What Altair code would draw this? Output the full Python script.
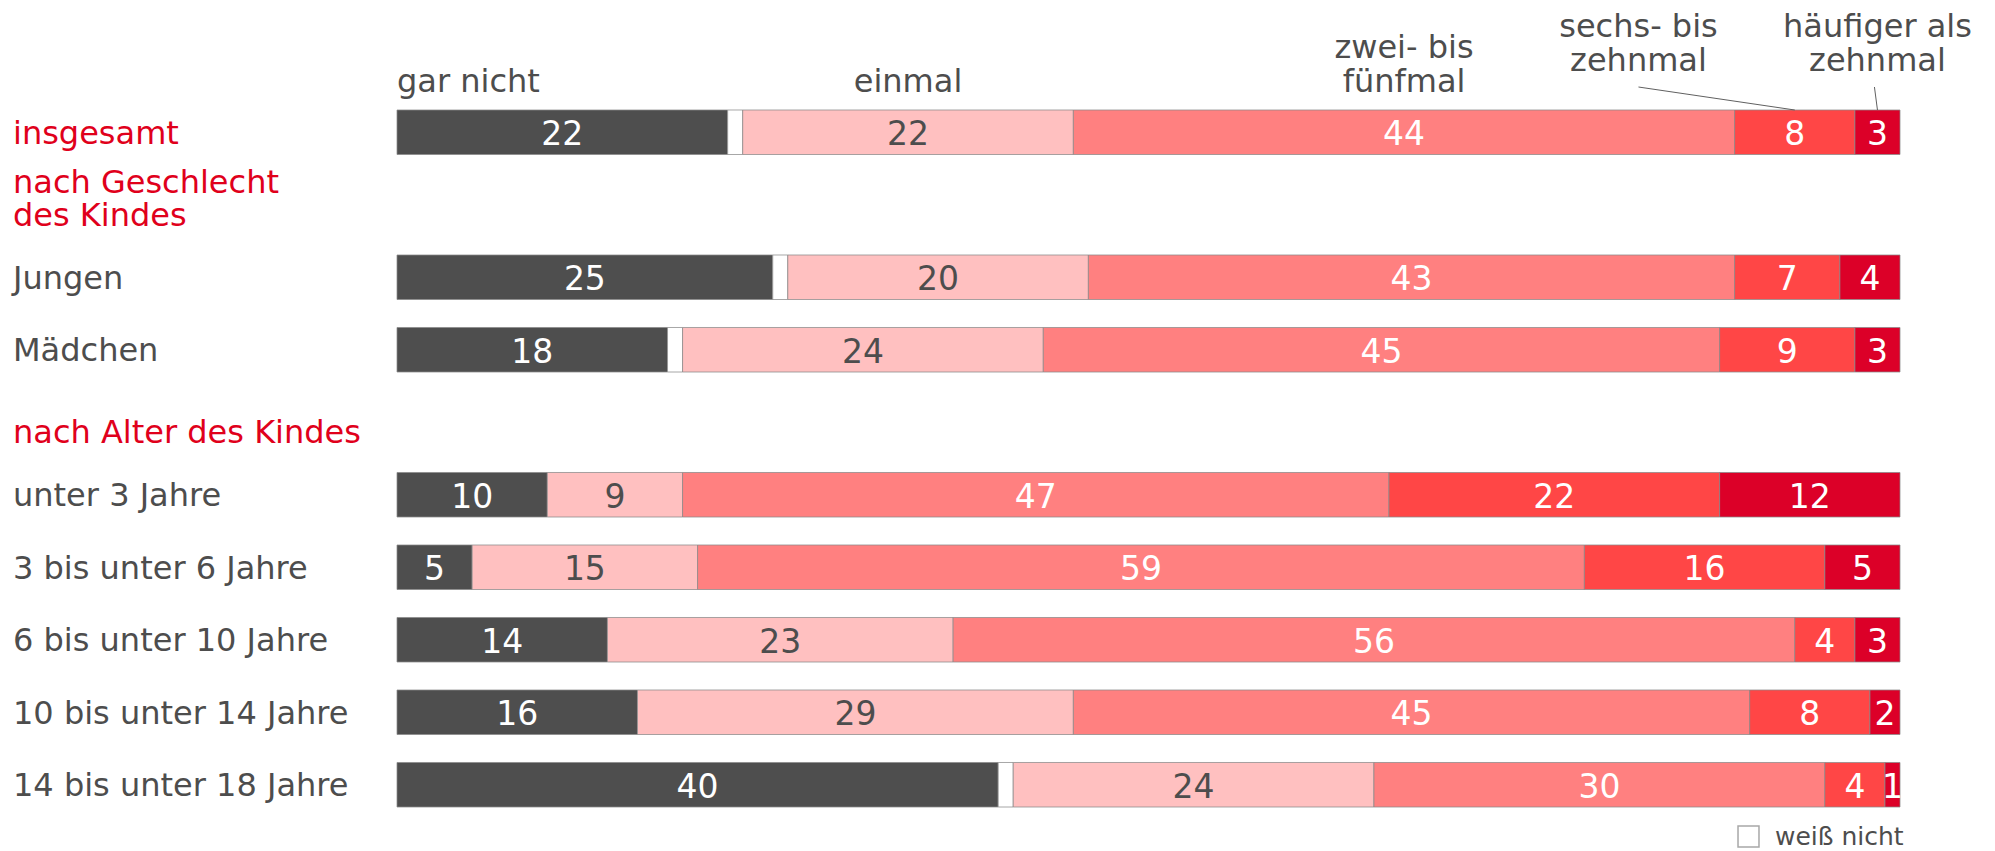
import altair as alt
import pandas as pd

# ---------------- data ----------------
rows = ["insgesamt", "Jungen", "Mädchen", "unter 3 Jahre", "3 bis unter 6 Jahre",
        "6 bis unter 10 Jahre", "10 bis unter 14 Jahre", "14 bis unter 18 Jahre"]
header_slots = ["nach Geschlecht des Kindes", "nach Alter des Kindes"]
header_texts = ["nach Geschlecht\ndes Kindes", "nach Alter des Kindes"]
slot_order = ["insgesamt", "nach Geschlecht des Kindes", "Jungen", "Mädchen",
              "nach Alter des Kindes", "unter 3 Jahre", "3 bis unter 6 Jahre",
              "6 bis unter 10 Jahre", "10 bis unter 14 Jahre", "14 bis unter 18 Jahre"]

categories = ["gar nicht", "weiß nicht", "einmal", "zwei- bis fünfmal",
              "sechs- bis zehnmal", "häufiger als zehnmal"]
gar_nicht = [22, 25, 18, 10, 5, 14, 16, 40]
weiss_nicht = [1, 1, 1, 0, 0, 0, 0, 1]
einmal = [22, 20, 24, 9, 15, 23, 29, 24]
zwei_bis_fuenf = [44, 43, 45, 47, 59, 56, 45, 30]
sechs_bis_zehn = [8, 7, 9, 22, 16, 4, 8, 4]
haeufiger = [3, 4, 3, 12, 5, 3, 2, 1]

top_labels = ["gar nicht", None, "einmal", "zwei- bis\nfünfmal",
              "sechs- bis\nzehnmal", "häufiger als\nzehnmal"]

# ---------------- style ----------------
colors = ["#4e4e4e", "#ffffff", "#ffc0c0", "#ff8080", "#ff4646", "#dc0028"]
GRAY = "#4d4d4d"
RED = "#e0001b"
FONT = "DejaVu Sans"
FS = 32

series = [gar_nicht, weiss_nicht, einmal, zwei_bis_fuenf, sechs_bis_zehn, haeufiger]
records = []
for r_i, row in enumerate(rows):
    for c_i, cat in enumerate(categories):
        records.append({"row": row, "cat": cat, "order": c_i, "value": series[c_i][r_i]})
df = pd.DataFrame(records)

# annotation positions from the "insgesamt" bar
cum = 0
mids = []
for s in series:
    mids.append(cum + s[0] / 2)
    cum += s[0]
ann_one = pd.DataFrame({"row": ["insgesamt"], "text": [top_labels[2]], "x": [mids[2]]})
ann_two = pd.DataFrame({"row": ["insgesamt"], "text": [top_labels[3]], "x": [mids[3]]})
ann_left = pd.DataFrame({"row": ["insgesamt"], "text": [top_labels[0]], "x": [0]})
sechs_label_x = mids[4] - 10.4
ann_high = pd.DataFrame({
    "row": ["insgesamt"] * 2,
    "text": [top_labels[4], top_labels[5]],
    "x": [sechs_label_x, mids[5]],
})
leaders = pd.DataFrame({"x": [sechs_label_x, mids[5] - 0.2], "x2": [mids[4], mids[5]]})

row_df = pd.DataFrame({"row": rows[1:], "text": rows[1:]})
ins_df = pd.DataFrame({"row": rows[:1], "text": rows[:1]})
h1_df = pd.DataFrame({"row": [header_slots[0]], "text": [header_texts[0]]})
h2_df = pd.DataFrame({"row": [header_slots[1]], "text": [header_texts[1]]})

xscale = alt.Scale(domain=[0, 100], nice=False, zero=True)
yscale = alt.Scale(domain=slot_order, paddingInner=0.386, paddingOuter=0.193)
Y = alt.Y("row:N", scale=yscale, axis=None)
XA = alt.X("x:Q", scale=xscale, axis=None)

base = alt.Chart(df).transform_filter("datum.value > 0").transform_stack(
    stack="value", as_=["x0", "x1"], groupby=["row"],
    sort=[alt.SortField("order", order="ascending")]
).transform_calculate(mid="(datum.x0 + datum.x1) / 2")

bars = base.mark_bar(stroke="#8a8a8a", strokeWidth=1, strokeOpacity=0.75).encode(
    x=alt.X("x0:Q", scale=xscale, axis=None),
    x2="x1:Q",
    y=Y,
    color=alt.Color(
        "cat:N",
        scale=alt.Scale(domain=categories, range=colors),
        legend=alt.Legend(
            values=["weiß nicht"], orient="none", legendX=1339, legendY=728,
            title=None, symbolType="square", symbolSize=440,
            symbolStrokeColor="#a8a8a8", symbolStrokeWidth=1.5,
            labelFontSize=25, labelColor=GRAY, labelFont=FONT,
            labelOffset=14, padding=0,
        ),
    ),
)

nums = base.transform_filter("datum.cat != 'weiß nicht'").mark_text(
    fontSize=33, baseline="middle", dy=3, font=FONT
).encode(
    x=alt.X("mid:Q", scale=xscale, axis=None),
    y=Y,
    text="value:Q",
    color=alt.condition("datum.cat == 'einmal'", alt.value(GRAY), alt.value("white")),
)


def side_label(data, color, dy, **kw):
    return alt.Chart(data).mark_text(
        align="left", baseline="middle", fontSize=FS, dy=dy, color=color, font=FONT, **kw
    ).encode(x=alt.value(-384), y=Y, text="text:N")


row_labels = side_label(row_df, GRAY, 1.5)
ins_label = side_label(ins_df, RED, 1.5)
h1 = side_label(h1_df, RED, -22, lineBreak="\n", lineHeight=33)
h2 = side_label(h2_df, RED, 10.5)


def top_label(data, align, dy):
    return alt.Chart(data).mark_text(
        align=align, baseline="alphabetic", fontSize=FS, dy=dy, color=GRAY, font=FONT,
        lineBreak="\n", lineHeight=34
    ).encode(x=XA, y=Y, text="text:N")


t_left = top_label(ann_left, "left", -40)
t_one = top_label(ann_one, "center", -40)
t_two = top_label(ann_two, "center", -74)
t_high = top_label(ann_high, "center", -95)

lead = alt.Chart(leaders).mark_rule(color="#606060", strokeWidth=1).encode(
    x=XA,
    x2="x2:Q",
    y=alt.value(-9),
    y2=alt.value(14),
)

chart = alt.layer(
    bars, nums, row_labels, ins_label, h1, h2, t_left, t_one, t_two, t_high, lead
).properties(
    width=1503, height=725,
    autosize=alt.AutoSizeParams(type="none"),
    padding={"left": 397, "top": 96, "right": 95, "bottom": 30},
    background="white",
).configure_view(stroke=None)

chart.save("out.html", embed_options={"renderer": "svg", "actions": False})
